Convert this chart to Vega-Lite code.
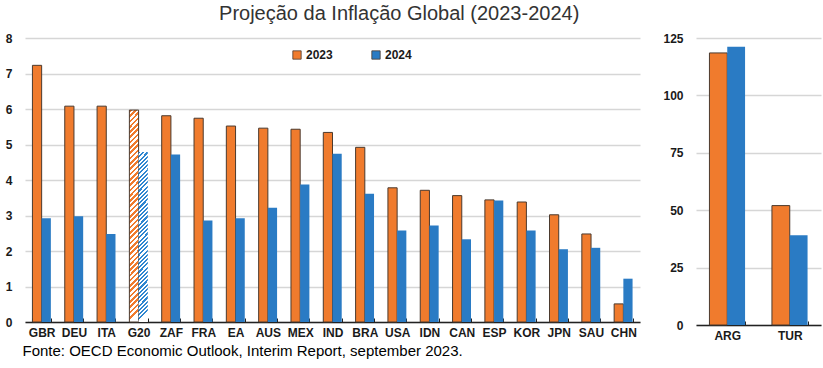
{
  "$schema": "https://vega.github.io/schema/vega-lite/v6.json",
  "padding": {"left": 5, "top": 4, "right": 4, "bottom": 2},
  "title": {"text": "Projeção da Inflação Global (2023-2024)", "fontSize": 20, "font": "Liberation Sans", "fontWeight": "normal", "color": "#333333", "anchor": "middle", "dx": -14, "offset": 8},
  "config": {
    "font": "Liberation Sans",
    "view": {"stroke": null},
    "axis": {"labelFont": "Liberation Sans", "labelFontWeight": "bold", "labelFontSize": 12, "labelColor": "#1a1a1a", "gridColor": "#d6d6d6", "gridWidth": 1.5, "domainColor": "#222222", "domainWidth": 1.5, "tickColor": "#222222"}
  },
  "datasets": {
    "left": [
      {"c": "GBR", "year": "2023", "v": 7.23}, {"c": "GBR", "year": "2024", "v": 2.92},
      {"c": "DEU", "year": "2023", "v": 6.08}, {"c": "DEU", "year": "2024", "v": 2.98},
      {"c": "ITA", "year": "2023", "v": 6.08}, {"c": "ITA", "year": "2024", "v": 2.48},
      {"c": "G20", "year": "2023", "v": 5.97}, {"c": "G20", "year": "2024", "v": 4.79},
      {"c": "ZAF", "year": "2023", "v": 5.81}, {"c": "ZAF", "year": "2024", "v": 4.72},
      {"c": "FRA", "year": "2023", "v": 5.74}, {"c": "FRA", "year": "2024", "v": 2.86},
      {"c": "EA", "year": "2023", "v": 5.52}, {"c": "EA", "year": "2024", "v": 2.92},
      {"c": "AUS", "year": "2023", "v": 5.46}, {"c": "AUS", "year": "2024", "v": 3.22},
      {"c": "MEX", "year": "2023", "v": 5.43}, {"c": "MEX", "year": "2024", "v": 3.87},
      {"c": "IND", "year": "2023", "v": 5.34}, {"c": "IND", "year": "2024", "v": 4.74},
      {"c": "BRA", "year": "2023", "v": 4.92}, {"c": "BRA", "year": "2024", "v": 3.61},
      {"c": "USA", "year": "2023", "v": 3.78}, {"c": "USA", "year": "2024", "v": 2.58},
      {"c": "IDN", "year": "2023", "v": 3.71}, {"c": "IDN", "year": "2024", "v": 2.72},
      {"c": "CAN", "year": "2023", "v": 3.56}, {"c": "CAN", "year": "2024", "v": 2.33},
      {"c": "ESP", "year": "2023", "v": 3.44}, {"c": "ESP", "year": "2024", "v": 3.42},
      {"c": "KOR", "year": "2023", "v": 3.38}, {"c": "KOR", "year": "2024", "v": 2.58},
      {"c": "JPN", "year": "2023", "v": 3.02}, {"c": "JPN", "year": "2024", "v": 2.05},
      {"c": "SAU", "year": "2023", "v": 2.48}, {"c": "SAU", "year": "2024", "v": 2.09},
      {"c": "CHN", "year": "2023", "v": 0.51}, {"c": "CHN", "year": "2024", "v": 1.22}
    ],
    "right": [
      {"c": "ARG", "year": "2023", "v": 118.5}, {"c": "ARG", "year": "2024", "v": 121.2},
      {"c": "TUR", "year": "2023", "v": 52.0}, {"c": "TUR", "year": "2024", "v": 39.1}
    ]
  },
  "spacing": 22,
  "resolve": {"scale": {"x": "independent", "y": "independent", "color": "independent", "fill": "independent", "xOffset": "independent"}, "legend": {"fill": "independent"}},
  "hconcat": [
    {
      "width": 615,
      "height": 284,
      "data": {"name": "left"},
      "mark": {"type": "bar", "strokeWidth": 1},
      "encoding": {
        "x": {"field": "c", "type": "nominal", "sort": null,
          "scale": {"paddingInner": 0.43, "paddingOuter": 0.23},
          "axis": {"title": "Fonte: OECD Economic Outlook, Interim Report, september 2023.", "titleAnchor": "start", "titleX": -3, "titleFontSize": 15, "titleFontWeight": "normal", "titleColor": "#000000", "titlePadding": 5, "labelAngle": 0, "tickBand": "extent", "tickSize": -4, "labelPadding": 9}},
        "xOffset": {"field": "year", "type": "nominal", "sort": ["2023", "2024"]},
        "y": {"field": "v", "type": "quantitative", "scale": {"domain": [0, 8]},
          "axis": {"title": null, "values": [0, 1, 2, 3, 4, 5, 6, 7, 8], "domain": false, "ticks": false, "labelPadding": 13}},
        "fill": {"field": "year", "type": "nominal",
          "scale": {"domain": ["2023", "2024"], "range": ["#f07b2d", "#2a7bc4"]},
          "legend": {"orient": "none", "legendX": 266, "legendY": 11, "direction": "horizontal", "title": null, "symbolType": "square", "symbolSize": 70, "symbolStrokeColor": "#4b3a2e", "symbolStrokeWidth": 0.8, "labelFont": "Liberation Sans", "labelFontWeight": "bold", "labelFontSize": 12, "labelColor": "#1a1a1a", "labelOffset": 3, "columnPadding": 37},
          "condition": [
            {"test": "datum.c === 'G20' && datum.year === '2023'", "value": {"gradient": "linear", "x1": 0, "y1": 0, "x2": 0.044, "y2": 1, "stops": [
              {"offset": 0, "color": "#f07b2d"},
              {"offset": 0.0125, "color": "#f07b2d"}, {"offset": 0.0125, "color": "#fff"},
              {"offset": 0.025, "color": "#fff"}, {"offset": 0.025, "color": "#f07b2d"},
              {"offset": 0.0375, "color": "#f07b2d"}, {"offset": 0.0375, "color": "#fff"},
              {"offset": 0.05, "color": "#fff"}, {"offset": 0.05, "color": "#f07b2d"},
              {"offset": 0.0625, "color": "#f07b2d"}, {"offset": 0.0625, "color": "#fff"},
              {"offset": 0.075, "color": "#fff"}, {"offset": 0.075, "color": "#f07b2d"},
              {"offset": 0.0875, "color": "#f07b2d"}, {"offset": 0.0875, "color": "#fff"},
              {"offset": 0.1, "color": "#fff"}, {"offset": 0.1, "color": "#f07b2d"},
              {"offset": 0.1125, "color": "#f07b2d"}, {"offset": 0.1125, "color": "#fff"},
              {"offset": 0.125, "color": "#fff"}, {"offset": 0.125, "color": "#f07b2d"},
              {"offset": 0.1375, "color": "#f07b2d"}, {"offset": 0.1375, "color": "#fff"},
              {"offset": 0.15, "color": "#fff"}, {"offset": 0.15, "color": "#f07b2d"},
              {"offset": 0.1625, "color": "#f07b2d"}, {"offset": 0.1625, "color": "#fff"},
              {"offset": 0.175, "color": "#fff"}, {"offset": 0.175, "color": "#f07b2d"},
              {"offset": 0.1875, "color": "#f07b2d"}, {"offset": 0.1875, "color": "#fff"},
              {"offset": 0.2, "color": "#fff"}, {"offset": 0.2, "color": "#f07b2d"},
              {"offset": 0.2125, "color": "#f07b2d"}, {"offset": 0.2125, "color": "#fff"},
              {"offset": 0.225, "color": "#fff"}, {"offset": 0.225, "color": "#f07b2d"},
              {"offset": 0.2375, "color": "#f07b2d"}, {"offset": 0.2375, "color": "#fff"},
              {"offset": 0.25, "color": "#fff"}, {"offset": 0.25, "color": "#f07b2d"},
              {"offset": 0.2625, "color": "#f07b2d"}, {"offset": 0.2625, "color": "#fff"},
              {"offset": 0.275, "color": "#fff"}, {"offset": 0.275, "color": "#f07b2d"},
              {"offset": 0.2875, "color": "#f07b2d"}, {"offset": 0.2875, "color": "#fff"},
              {"offset": 0.3, "color": "#fff"}, {"offset": 0.3, "color": "#f07b2d"},
              {"offset": 0.3125, "color": "#f07b2d"}, {"offset": 0.3125, "color": "#fff"},
              {"offset": 0.325, "color": "#fff"}, {"offset": 0.325, "color": "#f07b2d"},
              {"offset": 0.3375, "color": "#f07b2d"}, {"offset": 0.3375, "color": "#fff"},
              {"offset": 0.35, "color": "#fff"}, {"offset": 0.35, "color": "#f07b2d"},
              {"offset": 0.3625, "color": "#f07b2d"}, {"offset": 0.3625, "color": "#fff"},
              {"offset": 0.375, "color": "#fff"}, {"offset": 0.375, "color": "#f07b2d"},
              {"offset": 0.3875, "color": "#f07b2d"}, {"offset": 0.3875, "color": "#fff"},
              {"offset": 0.4, "color": "#fff"}, {"offset": 0.4, "color": "#f07b2d"},
              {"offset": 0.4125, "color": "#f07b2d"}, {"offset": 0.4125, "color": "#fff"},
              {"offset": 0.425, "color": "#fff"}, {"offset": 0.425, "color": "#f07b2d"},
              {"offset": 0.4375, "color": "#f07b2d"}, {"offset": 0.4375, "color": "#fff"},
              {"offset": 0.45, "color": "#fff"}, {"offset": 0.45, "color": "#f07b2d"},
              {"offset": 0.4625, "color": "#f07b2d"}, {"offset": 0.4625, "color": "#fff"},
              {"offset": 0.475, "color": "#fff"}, {"offset": 0.475, "color": "#f07b2d"},
              {"offset": 0.4875, "color": "#f07b2d"}, {"offset": 0.4875, "color": "#fff"},
              {"offset": 0.5, "color": "#fff"}, {"offset": 0.5, "color": "#f07b2d"},
              {"offset": 0.5125, "color": "#f07b2d"}, {"offset": 0.5125, "color": "#fff"},
              {"offset": 0.525, "color": "#fff"}, {"offset": 0.525, "color": "#f07b2d"},
              {"offset": 0.5375, "color": "#f07b2d"}, {"offset": 0.5375, "color": "#fff"},
              {"offset": 0.55, "color": "#fff"}, {"offset": 0.55, "color": "#f07b2d"},
              {"offset": 0.5625, "color": "#f07b2d"}, {"offset": 0.5625, "color": "#fff"},
              {"offset": 0.575, "color": "#fff"}, {"offset": 0.575, "color": "#f07b2d"},
              {"offset": 0.5875, "color": "#f07b2d"}, {"offset": 0.5875, "color": "#fff"},
              {"offset": 0.6, "color": "#fff"}, {"offset": 0.6, "color": "#f07b2d"},
              {"offset": 0.6125, "color": "#f07b2d"}, {"offset": 0.6125, "color": "#fff"},
              {"offset": 0.625, "color": "#fff"}, {"offset": 0.625, "color": "#f07b2d"},
              {"offset": 0.6375, "color": "#f07b2d"}, {"offset": 0.6375, "color": "#fff"},
              {"offset": 0.65, "color": "#fff"}, {"offset": 0.65, "color": "#f07b2d"},
              {"offset": 0.6625, "color": "#f07b2d"}, {"offset": 0.6625, "color": "#fff"},
              {"offset": 0.675, "color": "#fff"}, {"offset": 0.675, "color": "#f07b2d"},
              {"offset": 0.6875, "color": "#f07b2d"}, {"offset": 0.6875, "color": "#fff"},
              {"offset": 0.7, "color": "#fff"}, {"offset": 0.7, "color": "#f07b2d"},
              {"offset": 0.7125, "color": "#f07b2d"}, {"offset": 0.7125, "color": "#fff"},
              {"offset": 0.725, "color": "#fff"}, {"offset": 0.725, "color": "#f07b2d"},
              {"offset": 0.7375, "color": "#f07b2d"}, {"offset": 0.7375, "color": "#fff"},
              {"offset": 0.75, "color": "#fff"}, {"offset": 0.75, "color": "#f07b2d"},
              {"offset": 0.7625, "color": "#f07b2d"}, {"offset": 0.7625, "color": "#fff"},
              {"offset": 0.775, "color": "#fff"}, {"offset": 0.775, "color": "#f07b2d"},
              {"offset": 0.7875, "color": "#f07b2d"}, {"offset": 0.7875, "color": "#fff"},
              {"offset": 0.8, "color": "#fff"}, {"offset": 0.8, "color": "#f07b2d"},
              {"offset": 0.8125, "color": "#f07b2d"}, {"offset": 0.8125, "color": "#fff"},
              {"offset": 0.825, "color": "#fff"}, {"offset": 0.825, "color": "#f07b2d"},
              {"offset": 0.8375, "color": "#f07b2d"}, {"offset": 0.8375, "color": "#fff"},
              {"offset": 0.85, "color": "#fff"}, {"offset": 0.85, "color": "#f07b2d"},
              {"offset": 0.8625, "color": "#f07b2d"}, {"offset": 0.8625, "color": "#fff"},
              {"offset": 0.875, "color": "#fff"}, {"offset": 0.875, "color": "#f07b2d"},
              {"offset": 0.8875, "color": "#f07b2d"}, {"offset": 0.8875, "color": "#fff"},
              {"offset": 0.9, "color": "#fff"}, {"offset": 0.9, "color": "#f07b2d"},
              {"offset": 0.9125, "color": "#f07b2d"}, {"offset": 0.9125, "color": "#fff"},
              {"offset": 0.925, "color": "#fff"}, {"offset": 0.925, "color": "#f07b2d"},
              {"offset": 0.9375, "color": "#f07b2d"}, {"offset": 0.9375, "color": "#fff"},
              {"offset": 0.95, "color": "#fff"}, {"offset": 0.95, "color": "#f07b2d"},
              {"offset": 0.9625, "color": "#f07b2d"}, {"offset": 0.9625, "color": "#fff"},
              {"offset": 0.975, "color": "#fff"}, {"offset": 0.975, "color": "#f07b2d"},
              {"offset": 0.9875, "color": "#f07b2d"}, {"offset": 0.9875, "color": "#fff"},
              {"offset": 1, "color": "#fff"}
            ]}},
            {"test": "datum.c === 'G20' && datum.year === '2024'", "value": {"gradient": "linear", "x1": 0, "y1": 0, "x2": 0.055, "y2": 1, "stops": [
              {"offset": 0, "color": "#2f86d0"},
              {"offset": 0.0125, "color": "#2f86d0"}, {"offset": 0.0125, "color": "#fff"},
              {"offset": 0.025, "color": "#fff"}, {"offset": 0.025, "color": "#2f86d0"},
              {"offset": 0.0375, "color": "#2f86d0"}, {"offset": 0.0375, "color": "#fff"},
              {"offset": 0.05, "color": "#fff"}, {"offset": 0.05, "color": "#2f86d0"},
              {"offset": 0.0625, "color": "#2f86d0"}, {"offset": 0.0625, "color": "#fff"},
              {"offset": 0.075, "color": "#fff"}, {"offset": 0.075, "color": "#2f86d0"},
              {"offset": 0.0875, "color": "#2f86d0"}, {"offset": 0.0875, "color": "#fff"},
              {"offset": 0.1, "color": "#fff"}, {"offset": 0.1, "color": "#2f86d0"},
              {"offset": 0.1125, "color": "#2f86d0"}, {"offset": 0.1125, "color": "#fff"},
              {"offset": 0.125, "color": "#fff"}, {"offset": 0.125, "color": "#2f86d0"},
              {"offset": 0.1375, "color": "#2f86d0"}, {"offset": 0.1375, "color": "#fff"},
              {"offset": 0.15, "color": "#fff"}, {"offset": 0.15, "color": "#2f86d0"},
              {"offset": 0.1625, "color": "#2f86d0"}, {"offset": 0.1625, "color": "#fff"},
              {"offset": 0.175, "color": "#fff"}, {"offset": 0.175, "color": "#2f86d0"},
              {"offset": 0.1875, "color": "#2f86d0"}, {"offset": 0.1875, "color": "#fff"},
              {"offset": 0.2, "color": "#fff"}, {"offset": 0.2, "color": "#2f86d0"},
              {"offset": 0.2125, "color": "#2f86d0"}, {"offset": 0.2125, "color": "#fff"},
              {"offset": 0.225, "color": "#fff"}, {"offset": 0.225, "color": "#2f86d0"},
              {"offset": 0.2375, "color": "#2f86d0"}, {"offset": 0.2375, "color": "#fff"},
              {"offset": 0.25, "color": "#fff"}, {"offset": 0.25, "color": "#2f86d0"},
              {"offset": 0.2625, "color": "#2f86d0"}, {"offset": 0.2625, "color": "#fff"},
              {"offset": 0.275, "color": "#fff"}, {"offset": 0.275, "color": "#2f86d0"},
              {"offset": 0.2875, "color": "#2f86d0"}, {"offset": 0.2875, "color": "#fff"},
              {"offset": 0.3, "color": "#fff"}, {"offset": 0.3, "color": "#2f86d0"},
              {"offset": 0.3125, "color": "#2f86d0"}, {"offset": 0.3125, "color": "#fff"},
              {"offset": 0.325, "color": "#fff"}, {"offset": 0.325, "color": "#2f86d0"},
              {"offset": 0.3375, "color": "#2f86d0"}, {"offset": 0.3375, "color": "#fff"},
              {"offset": 0.35, "color": "#fff"}, {"offset": 0.35, "color": "#2f86d0"},
              {"offset": 0.3625, "color": "#2f86d0"}, {"offset": 0.3625, "color": "#fff"},
              {"offset": 0.375, "color": "#fff"}, {"offset": 0.375, "color": "#2f86d0"},
              {"offset": 0.3875, "color": "#2f86d0"}, {"offset": 0.3875, "color": "#fff"},
              {"offset": 0.4, "color": "#fff"}, {"offset": 0.4, "color": "#2f86d0"},
              {"offset": 0.4125, "color": "#2f86d0"}, {"offset": 0.4125, "color": "#fff"},
              {"offset": 0.425, "color": "#fff"}, {"offset": 0.425, "color": "#2f86d0"},
              {"offset": 0.4375, "color": "#2f86d0"}, {"offset": 0.4375, "color": "#fff"},
              {"offset": 0.45, "color": "#fff"}, {"offset": 0.45, "color": "#2f86d0"},
              {"offset": 0.4625, "color": "#2f86d0"}, {"offset": 0.4625, "color": "#fff"},
              {"offset": 0.475, "color": "#fff"}, {"offset": 0.475, "color": "#2f86d0"},
              {"offset": 0.4875, "color": "#2f86d0"}, {"offset": 0.4875, "color": "#fff"},
              {"offset": 0.5, "color": "#fff"}, {"offset": 0.5, "color": "#2f86d0"},
              {"offset": 0.5125, "color": "#2f86d0"}, {"offset": 0.5125, "color": "#fff"},
              {"offset": 0.525, "color": "#fff"}, {"offset": 0.525, "color": "#2f86d0"},
              {"offset": 0.5375, "color": "#2f86d0"}, {"offset": 0.5375, "color": "#fff"},
              {"offset": 0.55, "color": "#fff"}, {"offset": 0.55, "color": "#2f86d0"},
              {"offset": 0.5625, "color": "#2f86d0"}, {"offset": 0.5625, "color": "#fff"},
              {"offset": 0.575, "color": "#fff"}, {"offset": 0.575, "color": "#2f86d0"},
              {"offset": 0.5875, "color": "#2f86d0"}, {"offset": 0.5875, "color": "#fff"},
              {"offset": 0.6, "color": "#fff"}, {"offset": 0.6, "color": "#2f86d0"},
              {"offset": 0.6125, "color": "#2f86d0"}, {"offset": 0.6125, "color": "#fff"},
              {"offset": 0.625, "color": "#fff"}, {"offset": 0.625, "color": "#2f86d0"},
              {"offset": 0.6375, "color": "#2f86d0"}, {"offset": 0.6375, "color": "#fff"},
              {"offset": 0.65, "color": "#fff"}, {"offset": 0.65, "color": "#2f86d0"},
              {"offset": 0.6625, "color": "#2f86d0"}, {"offset": 0.6625, "color": "#fff"},
              {"offset": 0.675, "color": "#fff"}, {"offset": 0.675, "color": "#2f86d0"},
              {"offset": 0.6875, "color": "#2f86d0"}, {"offset": 0.6875, "color": "#fff"},
              {"offset": 0.7, "color": "#fff"}, {"offset": 0.7, "color": "#2f86d0"},
              {"offset": 0.7125, "color": "#2f86d0"}, {"offset": 0.7125, "color": "#fff"},
              {"offset": 0.725, "color": "#fff"}, {"offset": 0.725, "color": "#2f86d0"},
              {"offset": 0.7375, "color": "#2f86d0"}, {"offset": 0.7375, "color": "#fff"},
              {"offset": 0.75, "color": "#fff"}, {"offset": 0.75, "color": "#2f86d0"},
              {"offset": 0.7625, "color": "#2f86d0"}, {"offset": 0.7625, "color": "#fff"},
              {"offset": 0.775, "color": "#fff"}, {"offset": 0.775, "color": "#2f86d0"},
              {"offset": 0.7875, "color": "#2f86d0"}, {"offset": 0.7875, "color": "#fff"},
              {"offset": 0.8, "color": "#fff"}, {"offset": 0.8, "color": "#2f86d0"},
              {"offset": 0.8125, "color": "#2f86d0"}, {"offset": 0.8125, "color": "#fff"},
              {"offset": 0.825, "color": "#fff"}, {"offset": 0.825, "color": "#2f86d0"},
              {"offset": 0.8375, "color": "#2f86d0"}, {"offset": 0.8375, "color": "#fff"},
              {"offset": 0.85, "color": "#fff"}, {"offset": 0.85, "color": "#2f86d0"},
              {"offset": 0.8625, "color": "#2f86d0"}, {"offset": 0.8625, "color": "#fff"},
              {"offset": 0.875, "color": "#fff"}, {"offset": 0.875, "color": "#2f86d0"},
              {"offset": 0.8875, "color": "#2f86d0"}, {"offset": 0.8875, "color": "#fff"},
              {"offset": 0.9, "color": "#fff"}, {"offset": 0.9, "color": "#2f86d0"},
              {"offset": 0.9125, "color": "#2f86d0"}, {"offset": 0.9125, "color": "#fff"},
              {"offset": 0.925, "color": "#fff"}, {"offset": 0.925, "color": "#2f86d0"},
              {"offset": 0.9375, "color": "#2f86d0"}, {"offset": 0.9375, "color": "#fff"},
              {"offset": 0.95, "color": "#fff"}, {"offset": 0.95, "color": "#2f86d0"},
              {"offset": 0.9625, "color": "#2f86d0"}, {"offset": 0.9625, "color": "#fff"},
              {"offset": 0.975, "color": "#fff"}, {"offset": 0.975, "color": "#2f86d0"},
              {"offset": 0.9875, "color": "#2f86d0"}, {"offset": 0.9875, "color": "#fff"},
              {"offset": 1, "color": "#fff"}
            ]}}
          ]
        },
        "stroke": {"condition": {"test": "datum.year === '2023'", "value": "#4b3a2e"}, "value": null}
      }
    },
    {
      "width": 125,
      "height": 287,
      "data": {"name": "right"},
      "mark": {"type": "bar", "strokeWidth": 1},
      "encoding": {
        "x": {"field": "c", "type": "nominal", "sort": null,
          "scale": {"paddingInner": 0.43, "paddingOuter": 0.215},
          "axis": {"title": null, "labelAngle": 0, "tickBand": "extent", "tickSize": -4, "labelPadding": 9}},
        "xOffset": {"field": "year", "type": "nominal", "sort": ["2023", "2024"]},
        "y": {"field": "v", "type": "quantitative", "scale": {"domain": [0, 125]},
          "axis": {"title": null, "values": [0, 25, 50, 75, 100, 125], "domain": false, "ticks": false, "labelPadding": 13}},
        "fill": {"field": "year", "type": "nominal",
          "scale": {"domain": ["2023", "2024"], "range": ["#f07b2d", "#2a7bc4"]},
          "legend": null},
        "stroke": {"condition": {"test": "datum.year === '2023'", "value": "#4b3a2e"}, "value": null}
      }
    }
  ]
}
